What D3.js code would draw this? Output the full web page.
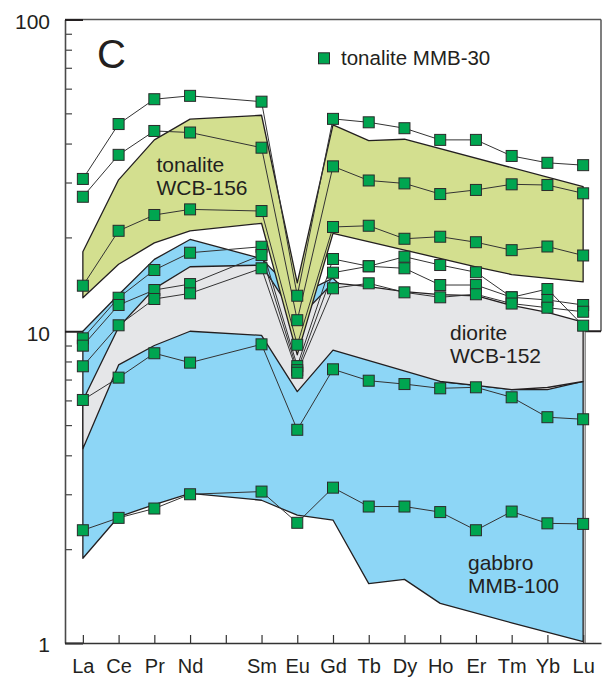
<!DOCTYPE html>
<html>
<head>
<meta charset="utf-8">
<script src="https://cdn.jsdelivr.net/npm/d3@7"></script>
<style>
    body { margin: 0; background: #fff; }
    text { font-family: "Liberation Sans", Arial, sans-serif; fill: #231f20; }
</style>
</head>
<body>
<div id="chart"></div>
<script>
// x slots (Pm keeps its place on the axis but has no label and no data)
const elements = ["La", "Ce", "Pr", "Nd", "Pm", "Sm", "Eu", "Gd", "Tb", "Dy", "Ho", "Er", "Tm", "Yb", "Lu"];
const tickLabels = ["La", "Ce", "Pr", "Nd", "", "Sm", "Eu", "Gd", "Tb", "Dy", "Ho", "Er", "Tm", "Yb", "Lu"];
const sampleElements = ["La", "Ce", "Pr", "Nd", "Sm", "Eu", "Gd", "Tb", "Dy", "Ho", "Er", "Tm", "Yb", "Lu"];

// tonalite MMB-30 samples, one value per sampleElements entry
const mmb30_1 = [30.8, 46.2, 55.5, 56.9, 54.5, 13.0, 48.0, 46.8, 44.8, 41.1, 41.1, 36.5, 34.7, 34.1];
const mmb30_2 = [27.0, 36.8, 43.9, 43.4, 38.8, 10.85, 33.8, 30.45, 29.8, 27.55, 28.4, 29.6, 29.45, 27.7];
const mmb30_3 = [14.0, 21.0, 23.6, 24.6, 24.3, 9.05, 21.6, 21.8, 19.8, 20.1, 19.3, 18.2, 18.7, 17.5];
const mmb30_4 = [9.49, 12.81, 15.72, 17.86, 18.67, 7.73, 17.05, 16.16, 17.34, 16.31, 15.46, 12.85, 13.66, 10.42];
const mmb30_5 = [8.99, 12.14, 13.56, 14.17, 17.56, 7.5, 15.41, 16.16, 15.92, 14.07, 14.07, 12.85, 12.6, 12.14];
const mmb30_6 = [7.72, 10.45, 12.69, 13.23, 15.92, 7.36, 13.73, 14.25, 13.33, 12.85, 13.14, 12.27, 11.9, 11.55];
const mmb30_7 = [6.02, 7.10, 8.50, 7.93, 9.08, 4.83, 7.55, 6.94, 6.77, 6.56, 6.61, 6.14, 5.30, 5.22];
const mmb30_8 = [2.30, 2.52, 2.70, 3.00, 3.06, 2.43, 3.15, 2.74, 2.74, 2.63, 2.30, 2.64, 2.42, 2.41];
const samples = [mmb30_1, mmb30_2, mmb30_3, mmb30_4, mmb30_5, mmb30_6, mmb30_7, mmb30_8];

// fields, edge vertices as [element, value]
const wcb156Upper = [["La", 18.0], ["Ce", 30.6], ["Pr", 41.1], ["Nd", 47.9], ["Sm", 49.3], ["Eu", 14.3], ["Gd", 45.9], ["Tb", 40.9], ["Dy", 41.3], ["Lu", 29.1]];
const wcb156Lower = [["La", 12.8], ["Ce", 16.4], ["Pr", 19.2], ["Nd", 21.0], ["Sm", 22.2], ["Eu", 8.4], ["Gd", 20.6], ["Er", 16.1], ["Tm", 15.2], ["Lu", 14.4]];
const wcb152Upper = [["La", 6.0], ["Ce", 10.3], ["Pr", 13.7], ["Nd", 16.1], ["Sm", 16.3], ["Eu", 10.9], ["Gd", 14.3], ["Tb", 13.9], ["Dy", 13.4], ["Ho", 13.1], ["Er", 13.0], ["Tm", 12.1], ["Yb", 11.5], ["Lu", 10.7]];
const wcb152Lower = [["La", 4.2], ["Ce", 7.8], ["Pr", 9.0], ["Nd", 10.0], ["Sm", 9.7], ["Eu", 6.4], ["Gd", 8.7], ["Ho", 6.9], ["Er", 6.7], ["Tm", 6.5], ["Yb", 6.6], ["Lu", 6.9]];
const mmb100Upper = [["La", 10.0], ["Ce", 13.1], ["Pr", 17.0], ["Nd", 19.7], ["Sm", 17.1], ["Eu", 13.0], ["Gd", 14.8], ["Ho", 6.9], ["Er", 6.7], ["Tm", 6.5], ["Yb", 6.5], ["Lu", 6.9]];
const mmb100Lower = [["La", 1.87], ["Ce", 2.54], ["Pr", 2.78], ["Nd", 3.02], ["Sm", 2.87], ["Eu", 2.57], ["Gd", 2.48], ["Tb", 1.55], ["Dy", 1.60], ["Ho", 1.34], ["Tm", 1.16], ["Lu", 1.01]];

const majorTicks = [1, 10, 100];
const minorTicks = [2, 3, 4, 5, 6, 7, 8, 9, 20, 30, 40, 50, 60, 70, 80, 90];

const W = 602, H = 683;
const plotLeft = 65, plotRight = 601, plotTop = 19.5, plotBottom = 643;

const svg = d3.select("#chart")
    .append("svg")
    .attr("width", W)
    .attr("height", H);

const x = d3.scalePoint()
    .domain(elements)
    .range([plotLeft, plotRight])
    .padding(0.5);

const y = d3.scaleLog()
    .domain([1, 100])
    .range([plotBottom, plotTop]);

// fields: blue under grey under yellow
const fieldLine = d3.line()
    .x(function (d) { return x(d[0]); })
    .y(function (d) { return y(d[1]); });

function drawField(upper, lower, fill) {
    const pts = upper.concat(lower.slice().reverse());
    svg.append("path")
        .attr("d", fieldLine(pts) + "Z")
        .attr("fill", fill)
        .attr("stroke", "#231f20")
        .attr("stroke-width", 1.3)
        .attr("stroke-linejoin", "round");
}

drawField(mmb100Upper, mmb100Lower, "#8dd6f6");
drawField(wcb152Upper, wcb152Lower, "#e5e6e8");
drawField(wcb156Upper, wcb156Lower, "#d3df8f");

// frame: top, right side down to the 10 line, then a step in to the Lu edge
svg.append("line")
    .attr("x1", plotLeft).attr("x2", plotRight)
    .attr("y1", plotTop).attr("y2", plotTop)
    .attr("stroke", "#555").attr("stroke-width", 1.5);
svg.append("line")
    .attr("x1", plotRight).attr("x2", plotRight)
    .attr("y1", plotTop).attr("y2", y(10))
    .attr("stroke", "#555").attr("stroke-width", 1.5);
svg.append("line")
    .attr("x1", x("Lu") + 2).attr("x2", plotRight)
    .attr("y1", y(10)).attr("y2", y(10))
    .attr("stroke", "#231f20").attr("stroke-width", 2);
svg.append("line")
    .attr("x1", x("Lu") + 2).attr("x2", x("Lu") + 2)
    .attr("y1", y(10)).attr("y2", plotBottom)
    .attr("stroke", "#555").attr("stroke-width", 1);

// y axis
const yMinor = svg.append("g")
    .attr("transform", `translate(${plotLeft},0)`)
    .attr("color", "#444")
    .call(d3.axisLeft(y).tickValues(minorTicks).tickSizeInner(-7).tickSizeOuter(0).tickFormat(""));
yMinor.select(".domain").remove();
yMinor.selectAll("line").attr("stroke-width", 1.2);

const yMajor = svg.append("g")
    .attr("transform", `translate(${plotLeft},0)`)
    .attr("color", "#4a4a4a")
    .call(d3.axisLeft(y).tickValues(majorTicks).tickSizeInner(-18).tickSizeOuter(0).tickPadding(15).tickFormat(d3.format("d")));
yMajor.attr("font-size", 21);
yMajor.select(".domain").attr("stroke-width", 1.6);
yMajor.selectAll(".tick line").attr("stroke", "#231f20").attr("stroke-width", 2);
yMajor.selectAll(".tick text").attr("dy", "0.42em");

// x axis
const xAxis = svg.append("g")
    .attr("transform", `translate(0,${plotBottom})`)
    .attr("color", "#333")
    .call(d3.axisBottom(x).tickValues(elements).tickSizeInner(-8).tickSizeOuter(0).tickPadding(16)
        .tickFormat(function (d, i) { return tickLabels[i]; }));
xAxis.attr("font-size", 20);
xAxis.select(".domain").attr("stroke-width", 1.6);
xAxis.selectAll(".tick line").attr("stroke-width", 1.2);

// sample lines and markers
const sampleLine = d3.line()
    .x(function (d, i) { return x(sampleElements[i]); })
    .y(function (d) { return y(d); });

svg.selectAll("path.sample")
    .data(samples)
    .enter()
    .append("path")
    .attr("class", "sample")
    .attr("d", sampleLine)
    .attr("fill", "none")
    .attr("stroke", "#333")
    .attr("stroke-width", 1);

const ms = 11;
samples.forEach(function (s) {
    svg.append("g").selectAll("rect")
        .data(s)
        .enter()
        .append("rect")
        .attr("x", function (d, i) { return x(sampleElements[i]) - ms / 2; })
        .attr("y", function (d) { return y(d) - ms / 2; })
        .attr("width", ms)
        .attr("height", ms)
        .attr("fill", "#00a550")
        .attr("stroke", "#2b2b2b")
        .attr("stroke-width", 1);
});

// panel letter and legend
svg.append("text")
    .attr("x", 97).attr("y", 68)
    .attr("font-size", 40)
    .text("C");

svg.append("rect")
    .attr("x", 324 - ms / 2).attr("y", 58.3 - ms / 2)
    .attr("width", ms).attr("height", ms)
    .attr("fill", "#00a550").attr("stroke", "#2b2b2b");
svg.append("text")
    .attr("x", 341).attr("y", 65)
    .attr("font-size", 20.5)
    .text("tonalite MMB-30");

// field labels
function fieldLabel(tx, ty, lines) {
    const t = svg.append("text").attr("font-size", 21);
    lines.forEach(function (s, i) {
        t.append("tspan").attr("x", tx).attr("y", ty + i * 23.3).text(s);
    });
}
fieldLabel(156.5, 171.7, ["tonalite", "WCB-156"]);
fieldLabel(450, 340, ["diorite", "WCB-152"]);
fieldLabel(468, 570, ["gabbro", "MMB-100"]);
</script>
</body>
</html>
